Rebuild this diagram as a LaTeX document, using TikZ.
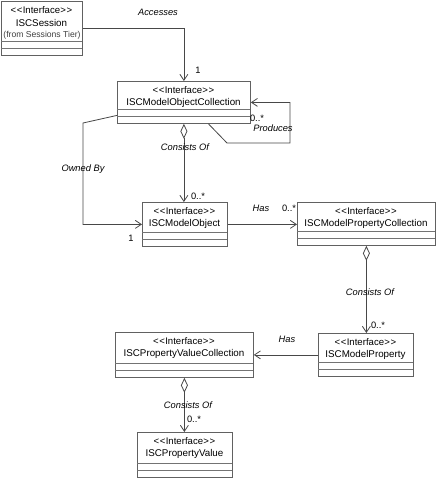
\documentclass[tikz,border=0pt]{standalone}
\usepackage{fontspec}
\setmainfont{Liberation Sans}
\usetikzlibrary{arrows.meta,calc}

\tikzset{
  x=1pt, y=-1pt,
  cls/.style={draw=black!62, line width=0.8pt, fill=white, inner sep=0pt, anchor=north west},
  comp/.style={draw=black!55, line width=0.7pt},
  stereo/.style={font=\fontsize{9.6}{11}\selectfont, inner sep=0pt},
  cname/.style={font=\fontsize{9.8}{11}\selectfont, inner sep=0pt},
  small/.style={font=\fontsize{8.6}{10}\selectfont, inner sep=0pt, text=black!75},
  lbl/.style={font=\fontsize{9.3}{11}\selectfont\itshape, inner sep=0pt},
  mult/.style={font=\fontsize{9.3}{11}\selectfont, inner sep=0pt},
  conn/.style={draw=black!72, line width=0.8pt},
  nav/.style={conn, -{Straight Barb[length=6pt,width=8pt]}},
  agg/.style={conn, {Diamond[open,fill=white,length=15pt,width=7pt]}-{Straight Barb[length=6pt,width=8pt]}},
}

\newcommand{\stereotxt}{<\kern0.6pt<\kern0.3pt Interface\kern0.3pt>\kern0.6pt>}
\newcommand{\classbox}[6]{%
  \node[cls, minimum width={(#4-#2)*1pt}, minimum height={(#5-#3)*1pt}] (#1) at (#2,#3) {};
  \draw[comp] (#2,{#5-14}) -- (#4,{#5-14});
  \draw[comp] (#2,{#5-7}) -- (#4,{#5-7});
  \node[stereo] (#1-st) at ({(#2+#4)/2},{#3+9}) {\stereotxt};
  \node[cname] (#1-nm) at ({(#2+#4)/2},{#3+22}) {#6};
}

\begin{document}
\begin{tikzpicture}
\useasboundingbox (0,0) rectangle (439,479);

% classes
\classbox{sess}{1}{1}{82}{55}{ISCSession}
\node[small] (sess-from) at (42,35) {(from Sessions Tier)};
\classbox{moc}{117}{81}{250}{123}{ISCModelObjectCollection}
\classbox{mo}{142}{202}{227}{246}{ISCModelObject}
\classbox{mpc}{297}{202}{435}{245}{ISCModelPropertyCollection}
\classbox{mp}{318}{333}{413}{376}{ISCModelProperty}
\classbox{pvc}{115}{332}{253}{377}{ISCPropertyValueCollection}
\classbox{pv}{137}{432}{232}{477}{ISCPropertyValue}

% Accesses
\draw[nav] (sess.east) -| (moc.north);
\node[lbl] (l-acc) at (158,12) {Accesses};
\node[mult] (m-acc) at (198,70) {1};

% Produces (self association)
\coordinate (p1) at (227,143);
\coordinate (p2) at (290,143);
\draw[nav] ([xshift=24.5pt]moc.south) -- (p1) -- (p2) |- (moc.east);
\node[mult] (m-prod) at (257,118) {0..*};
\node[lbl] (l-prod) at (273,128) {Produces};

% Owned By
\coordinate (o1) at (83,123);
\draw[nav] ([yshift=-13pt]moc.west) -- (o1) |- (mo.west);
\node[lbl] (l-own) at (83,169) {Owned By};
\node[mult] (m-own) at (131,238) {1};

% Consists Of (moc -> mo)
\draw[agg] (moc.south) -- (moc.south |- mo.north);
\node[lbl] (l-c1) at (185,147) {Consists Of};
\node[mult] (m-c1) at (198,196) {0..*};

% Has (mo -> mpc)
\draw[nav] (mo.east) -- (mo.east -| mpc.west);
\node[lbl] (l-has1) at (261,208) {Has};
\node[mult] (m-has1) at (289,208) {0..*};

% Consists Of (mpc -> mp)
\draw[agg] (mpc.south) -- (mpc.south |- mp.north);
\node[lbl] (l-c2) at (370,292) {Consists Of};
\node[mult] (m-c2) at (378,325) {0..*};

% Has (mp -> pvc)
\draw[nav] (mp.west) -- (pvc.east);
\node[lbl] (l-has2) at (287,339) {Has};

% Consists Of (pvc -> pv)
\draw[agg] (pvc.south) -- (pvc.south |- pv.north);
\node[lbl] (l-c3) at (188,405) {Consists Of};
\node[mult] (m-c3) at (194,419) {0..*};
\end{tikzpicture}
\end{document}
